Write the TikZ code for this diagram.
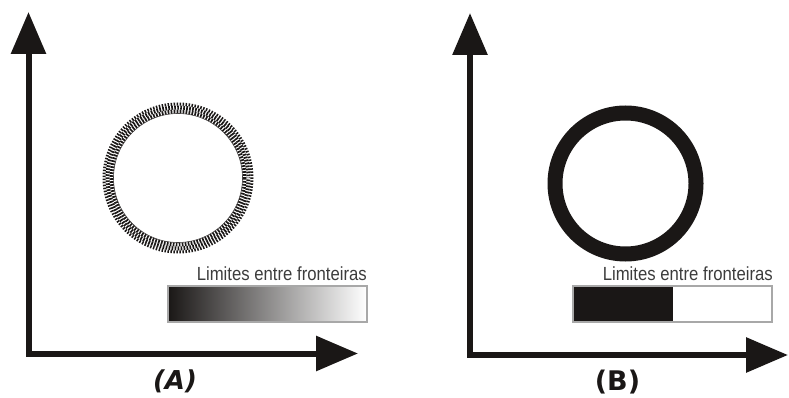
\documentclass[tikz,border=0pt]{standalone}
\usepackage{fontspec}
\setmainfont{Liberation Sans}
\newfontfamily\labfont{DejaVu Sans}
\usetikzlibrary{arrows.meta}
\definecolor{ink}{HTML}{1A1716}
\definecolor{txtgray}{HTML}{3C3C3C}
\definecolor{framegray}{HTML}{A8A8A8}
\begin{document}
\begin{tikzpicture}[x=1pt,y=-1pt,
  axis/.style={draw=ink,line width=6pt,line join=miter,
    {Triangle[length=42pt,width=34pt]}-{Triangle[length=42pt,width=34pt]}},
  caption/.style={anchor=base east,inner sep=0pt,text=txtgray,xscale=0.88,font=\fontsize{19}{21}\selectfont},
  barframe/.style={draw=framegray,line width=1.2pt},
  panellabel/.style={inner sep=0pt,text=ink}]
\useasboundingbox (0,0) rectangle (789,398);
% ---- panel A ----
\coordinate (atop) at (28.5,12);
\coordinate (acorner) at (28.5,353.5);
\coordinate (aright) at (358,353.5);
\draw[axis] (atop) -- (acorner) -- (aright);
\coordinate (ca) at (178,178);
\draw[ink,line width=4pt,dash pattern=on 1.7pt off 1.3pt] (ca) circle[radius=66.5];
\draw[ink,line width=4pt,dash pattern=on 1.7pt off 1.3pt,dash phase=1.5pt] (ca) circle[radius=70.5];
\draw[ink,line width=3pt,dash pattern=on 1.5pt off 1.5pt,dash phase=0.7pt] (ca) circle[radius=74];
\draw[ink!80,line width=0.6pt] (ca) circle[radius=64.5];
\node[caption] (capa) at (367,280) {Limites entre fronteiras};
\shade[left color=ink,right color=white] (168,286) rectangle (367,322);
\draw[barframe] (168,286) rectangle (367,322);
\node[panellabel,font=\labfont\bfseries\itshape\fontsize{26}{28}\selectfont] (laba) at (175,381.5) {(A)};
% ---- panel B ----
\coordinate (btop) at (470,13);
\coordinate (bcorner) at (470,355);
\coordinate (bright) at (788,355);
\draw[axis] (btop) -- (bcorner) -- (bright);
\coordinate (cb) at (625.5,183.5);
\draw[ink,line width=15pt] (cb) circle[radius=70.5];
\node[caption] (capb) at (773,280) {Limites entre fronteiras};
\fill[white] (573,286) rectangle (772,322);
\fill[ink] (573,286) rectangle (673,322);
\draw[barframe] (573,286) rectangle (772,322);
\node[panellabel,font=\labfont\bfseries\fontsize{27}{29}\selectfont] (labb) at (617.5,382.5) {(B)};
\end{tikzpicture}
\end{document}
